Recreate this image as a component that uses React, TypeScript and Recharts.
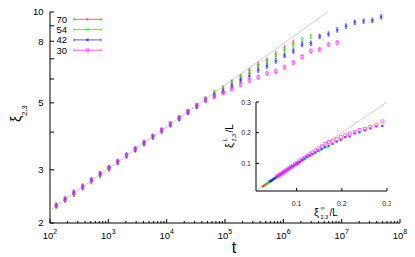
import React from "react";
import { ScatterChart, Scatter, XAxis, YAxis, ReferenceLine } from "recharts";

const FONT = "'Liberation Sans', Arial, Helvetica, sans-serif";

// time steps t = 2^(n/2), n = 8 ... 51
const tValues = [
  16, 22.63, 32, 45.25, 64, 90.51, 128, 181.0, 256, 362.0, 512, 724.1, 1024, 1448,
  2048, 2896, 4096, 5793, 8192, 11585, 16384, 23170, 32768, 46341, 65536, 92682,
  131072, 185364, 262144, 370728, 524288, 741455, 1048576, 1482910, 2097152,
  2965821, 4194304, 5931642, 8388608, 11863283, 16777216, 23726566, 33554432,
  47453133,
];

// infinite-size correlation length (grey line), same time steps
const xiInf = [
  1.711, 1.795, 1.883, 1.975, 2.072, 2.173, 2.28, 2.392, 2.509, 2.632, 2.761, 2.896,
  3.038, 3.187, 3.343, 3.507, 3.679, 3.859, 4.048, 4.246, 4.454, 4.672, 4.901, 5.141,
  5.393, 5.657, 5.935, 6.225, 6.53, 6.85, 7.186, 7.538, 7.908, 8.295, 8.702, 9.128,
  9.575, 10.044, 10.536, 11.053, 11.594, 12.163, 12.759, 13.384,
];

// xi_{2,3}(t) for each system size, starting at the first time step
const xi70 = [
  1.71, 1.79, 1.88, 1.97, 2.07, 2.17, 2.27, 2.38, 2.49, 2.61, 2.74, 2.87, 3.02, 3.17,
  3.33, 3.49, 3.66, 3.85, 4.04, 4.24, 4.45, 4.67, 4.89, 5.14, 5.38, 5.58, 5.84, 6.1,
  6.4, 6.7, 6.92, 7.26, 7.6, 7.94,
];
const xi54 = [
  1.71, 1.8, 1.88, 1.98, 2.07, 2.18, 2.28, 2.39, 2.5, 2.63, 2.76, 2.89, 3.03, 3.18,
  3.34, 3.5, 3.68, 3.86, 4.05, 4.25, 4.46, 4.68, 4.9, 5.15, 5.4, 5.6, 5.86, 6.08,
  6.36, 6.63, 6.86, 7.15, 7.48, 7.72, 8.1, 8.3,
];
const xi42 = [
  1.72, 1.8, 1.89, 1.98, 2.08, 2.18, 2.29, 2.4, 2.53, 2.65, 2.78, 2.91, 3.05, 3.19,
  3.35, 3.51, 3.68, 3.86, 4.04, 4.23, 4.43, 4.64, 4.87, 5.11, 5.29, 5.45, 5.68, 5.93,
  6.14, 6.42, 6.62, 6.88, 7.18, 7.42, 7.8, 7.88, 8.3, 8.45, 8.72, 8.98, 9.25, 9.33,
  9.38, 9.63,
];
const xi30 = [
  1.72, 1.8, 1.89, 1.98, 2.08, 2.18, 2.29, 2.4, 2.51, 2.63, 2.77, 2.91, 3.05, 3.2,
  3.37, 3.53, 3.7, 3.88, 4.07, 4.26, 4.46, 4.67, 4.9, 5.1, 5.24, 5.4, 5.56, 5.74,
  5.92, 6.08, 6.26, 6.36, 6.56, 6.79, 7.1, 7.41, 7.51, 7.8, 7.91,
];

const sizes = [70, 54, 42, 30];
const seriesValues = [xi70, xi54, xi42, xi30];
const colors = ["#ff3030", "#20e020", "#2020ff", "#ff30ff"];
const markers = ["plus", "cross", "star", "box"];

const xMajorTicks = [1e2, 1e3, 1e4, 1e5, 1e6, 1e7, 1e8];
const yTicks = [2, 3, 4, 5, 6, 7, 8, 9, 10];
const yLabeled = [2, 3, 5, 8, 10];
const insetDomain = [0.01, 0.3];
const insetTicks = [0.1, 0.2, 0.3];

const xTicks = xMajorTicks.flatMap((d, i) =>
  i === xMajorTicks.length - 1 ? [d] : [d, ...[2, 3, 4, 5, 6, 7, 8, 9].map((m) => d * m)]
);

const isMajor = (v: number) =>
  Math.abs(Math.log10(v) - Math.round(Math.log10(v))) < 1e-9;

// point symbol with a small error bar, gnuplot style
function Marker({ cx, cy, kind, color, bar = 2.2, s = 1.3 }: any) {
  if (cx == null || cy == null) return null;
  return (
    <g stroke={color} strokeWidth={0.75} fill="none" opacity={0.85}>
      {bar > 0 && (
        <>
          <line x1={cx} x2={cx} y1={cy - bar} y2={cy + bar} />
          <line x1={cx - 1} x2={cx + 1} y1={cy - bar} y2={cy - bar} />
          <line x1={cx - 1} x2={cx + 1} y1={cy + bar} y2={cy + bar} />
        </>
      )}
      {(kind === "plus" || kind === "star") && (
        <>
          <line x1={cx - s} x2={cx + s} y1={cy} y2={cy} />
          <line x1={cx} x2={cx} y1={cy - s} y2={cy + s} />
        </>
      )}
      {(kind === "cross" || kind === "star") && (
        <>
          <line x1={cx - s} x2={cx + s} y1={cy - s} y2={cy + s} />
          <line x1={cx - s} x2={cx + s} y1={cy + s} y2={cy - s} />
        </>
      )}
      {kind === "box" && <rect x={cx - s} y={cy - s} width={2 * s} height={2 * s} />}
    </g>
  );
}

function BottomTick({ x, y, payload }: any) {
  const v = payload.value;
  const major = isMajor(v);
  return (
    <g>
      <line x1={x} x2={x} y1={y} y2={y - (major ? 4 : 2)} stroke="#000" />
      {major && (
        <text x={x} y={y + 16} textAnchor="middle" fontSize={9.5} fontFamily={FONT} fill="#000">
          10<tspan dy={-5} fontSize={7}>{Math.round(Math.log10(v))}</tspan>
        </text>
      )}
    </g>
  );
}

function TopTick({ x, y, payload }: any) {
  const major = isMajor(payload.value);
  return <line x1={x} x2={x} y1={y} y2={y + (major ? 4 : 2)} stroke="#000" />;
}

function LeftTick({ x, y, payload }: any) {
  const v = payload.value;
  return (
    <g>
      <line x1={x} x2={x + 4} y1={y} y2={y} stroke="#000" />
      {yLabeled.includes(v) && (
        <text x={x - 6.5} y={y + 3.4} textAnchor="end" fontSize={9.5} fontFamily={FONT} fill="#000">
          {v}
        </text>
      )}
    </g>
  );
}

function RightTick({ x, y }: any) {
  return <line x1={x} x2={x - 4} y1={y} y2={y} stroke="#000" />;
}

function InsetBottomTick({ x, y, payload }: any) {
  return (
    <g>
      <line x1={x} x2={x} y1={y} y2={y - 3} stroke="#000" />
      <text x={x} y={y + 15} textAnchor="middle" fontSize={7} fontFamily={FONT} fill="#222">
        {payload.value.toFixed(1)}
      </text>
    </g>
  );
}

function InsetLeftTick({ x, y, payload }: any) {
  return (
    <g>
      <line x1={x} x2={x + 3} y1={y} y2={y} stroke="#000" />
      <text x={x - 5} y={y + 2.5} textAnchor="end" fontSize={7} fontFamily={FONT} fill="#222">
        {payload.value.toFixed(1)}
      </text>
    </g>
  );
}

function InsetTopTick({ x, y }: any) {
  return <line x1={x} x2={x} y1={y} y2={y + 3} stroke="#000" />;
}

function InsetRightTick({ x, y }: any) {
  return <line x1={x} x2={x - 3} y1={y} y2={y} stroke="#000" />;
}

const fitData = tValues.map((t, i) => ({ t, xi: xiInf[i] }));

const mainSeries = seriesValues.map((vals) =>
  vals.map((xi, i) => ({ t: tValues[i], xi }))
);

const insetSeries = seriesValues.map((vals, k) =>
  vals.map((xi, i) => ({ x: xiInf[i] / sizes[k], y: xi / sizes[k] }))
);

function Inset() {
  return (
    <div style={{ position: "absolute", left: 216, top: 95 }}>
      <ScatterChart width={175} height={126} margin={{ top: 7, right: 4, bottom: 0, left: 10 }}>
        <XAxis
          type="number"
          dataKey="x"
          domain={insetDomain}
          ticks={insetTicks}
          interval={0}
          allowDataOverflow
          height={30}
          tickSize={0}
          tickMargin={0}
          tickLine={false}
          tick={<InsetBottomTick />}
          axisLine={{ stroke: "#000" }}
        />
        <XAxis
          xAxisId="top"
          orientation="top"
          type="number"
          domain={insetDomain}
          ticks={insetTicks}
          interval={0}
          allowDataOverflow
          height={0}
          tickSize={0}
          tickMargin={0}
          tickLine={false}
          tick={<InsetTopTick />}
          axisLine={{ stroke: "#000" }}
        />
        <YAxis
          type="number"
          dataKey="y"
          domain={insetDomain}
          ticks={insetTicks}
          interval={0}
          allowDataOverflow
          width={30}
          tickSize={0}
          tickMargin={0}
          tickLine={false}
          tick={<InsetLeftTick />}
          axisLine={{ stroke: "#000" }}
        />
        <YAxis
          yAxisId="right"
          orientation="right"
          type="number"
          domain={insetDomain}
          ticks={insetTicks}
          interval={0}
          allowDataOverflow
          width={0}
          tickSize={0}
          tickMargin={0}
          tickLine={false}
          tick={<InsetRightTick />}
          axisLine={{ stroke: "#000" }}
        />
        <ReferenceLine
          segment={[
            { x: insetDomain[0], y: insetDomain[0] },
            { x: insetDomain[1], y: insetDomain[1] },
          ]}
          stroke="#c4c4c4"
          strokeWidth={0.8}
        />
        {insetSeries.map((data, k) => (
          <Scatter
            key={sizes[k]}
            data={data}
            isAnimationActive={false}
            shape={(p: any) => (
              <Marker cx={p.cx} cy={p.cy} kind={markers[k]} color={colors[k]} bar={0} s={k === 3 ? 1.5 : 1.1} />
            )}
          />
        ))}
        <g fontFamily={FONT} fill="#000">
          <g transform="translate(98,121)">
            <text x={0} y={0} fontSize={11}>ξ</text>
            <text x={6.5} y={-6} fontSize={6}>∞</text>
            <text x={6.5} y={3} fontSize={5.5}>2,3</text>
            <text x={15.5} y={0} fontSize={10}>/L</text>
          </g>
          <g transform="translate(17,53) rotate(-90)">
            <text x={0} y={0} fontSize={11}>ξ</text>
            <text x={6.5} y={-6} fontSize={6}>L</text>
            <text x={6.5} y={3} fontSize={5.5}>2,3</text>
            <text x={15.5} y={0} fontSize={10}>/L</text>
          </g>
        </g>
      </ScatterChart>
    </div>
  );
}

export default function App() {
  return (
    <div style={{ position: "absolute", left: 0, top: 0, width: 415, height: 257, background: "#fff" }}>
      <ScatterChart width={415} height={257} margin={{ top: 12, right: 15, bottom: 0, left: 10 }}>
        <XAxis
          type="number"
          dataKey="t"
          scale="log"
          domain={[1e2, 1e8]}
          ticks={xTicks}
          interval={0}
          allowDataOverflow
          height={34}
          tickSize={0}
          tickMargin={0}
          tickLine={false}
          tick={<BottomTick />}
          axisLine={{ stroke: "#000" }}
        />
        <XAxis
          xAxisId="top"
          orientation="top"
          type="number"
          scale="log"
          domain={[1e2, 1e8]}
          ticks={xTicks}
          interval={0}
          allowDataOverflow
          height={0}
          tickSize={0}
          tickMargin={0}
          tickLine={false}
          tick={<TopTick />}
          axisLine={{ stroke: "#000" }}
        />
        <YAxis
          type="number"
          dataKey="xi"
          scale="log"
          domain={[2, 10]}
          ticks={yTicks}
          interval={0}
          allowDataOverflow
          width={40}
          tickSize={0}
          tickMargin={0}
          tickLine={false}
          tick={<LeftTick />}
          axisLine={{ stroke: "#000" }}
        />
        <YAxis
          yAxisId="right"
          orientation="right"
          type="number"
          scale="log"
          domain={[2, 10]}
          ticks={yTicks}
          interval={0}
          allowDataOverflow
          width={0}
          tickSize={0}
          tickMargin={0}
          tickLine={false}
          tick={<RightTick />}
          axisLine={{ stroke: "#000" }}
        />
        <Scatter
          data={fitData}
          isAnimationActive={false}
          line={{ stroke: "#c4c4c4", strokeWidth: 0.8 }}
          shape={() => <g />}
        />
        {mainSeries.map((data, k) => (
          <Scatter
            key={sizes[k]}
            data={data}
            isAnimationActive={false}
            shape={(p: any) => <Marker cx={p.cx} cy={p.cy} kind={markers[k]} color={colors[k]} />}
          />
        ))}
        <g fontFamily={FONT} fill="#000">
          {sizes.map((L, i) => {
            const cy = 19.3 + i * 10.3;
            return (
              <g key={L}>
                <text x={67} y={cy + 3.4} textAnchor="end" fontSize={9.5}>
                  {L}
                </text>
                <line x1={74} x2={101} y1={cy} y2={cy} stroke={colors[i]} strokeWidth={0.75} />
                <line x1={74} x2={74} y1={cy - 1.5} y2={cy + 1.5} stroke={colors[i]} strokeWidth={0.75} />
                <line x1={101} x2={101} y1={cy - 1.5} y2={cy + 1.5} stroke={colors[i]} strokeWidth={0.75} />
                <Marker cx={87.5} cy={cy} kind={markers[i]} color={colors[i]} bar={0} />
              </g>
            );
          })}
          <text x={234} y={253} textAnchor="middle" fontSize={16}>
            t
          </text>
          <text transform="translate(21,122) rotate(-90)" fontSize={14}>
            ξ<tspan dy={6} fontSize={7.5}>2,3</tspan>
          </text>
        </g>
      </ScatterChart>
      <Inset />
    </div>
  );
}
